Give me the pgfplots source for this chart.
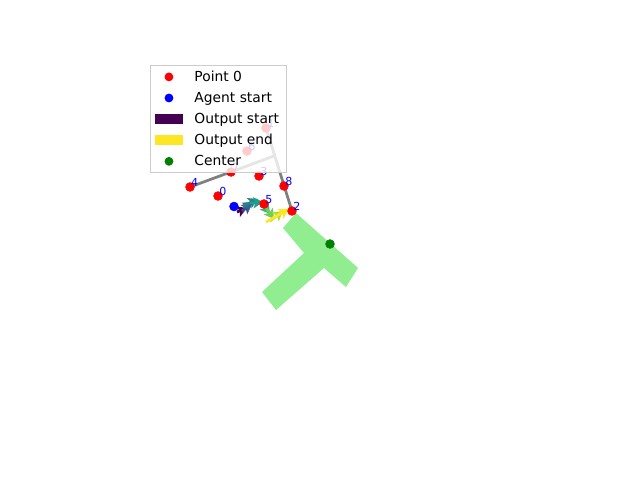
\documentclass[border=0pt]{standalone}
\usepackage{pgfplots}
\pgfplotsset{compat=1.18}
\usepackage{fontspec}
\setmainfont{DejaVu Sans}
\usetikzlibrary{arrows.meta}
\definecolor{lgreen}{HTML}{90EE90}
\definecolor{mgreen}{HTML}{008000}
\definecolor{v0}{HTML}{440154}
\definecolor{v1}{HTML}{482878}
\definecolor{v2}{HTML}{3E4989}
\definecolor{v3}{HTML}{31688E}
\definecolor{v4}{HTML}{26828E}
\definecolor{v5}{HTML}{1F9E89}
\definecolor{v6}{HTML}{35B779}
\definecolor{v7}{HTML}{6ECE58}
\definecolor{v8}{HTML}{B5DE2B}
\definecolor{v9}{HTML}{FDE725}
\pgfplotstableread{
x y label
218 196 0
266 128 1
292 211 2
259 176 3
190 187 4
264 204 5
247 151 6
231 172 7
284 186 8
}\pts
\begin{document}
\begin{tikzpicture}
\begin{axis}[
  width=6.4in, height=4.8in, scale only axis,
  xmin=0, xmax=640, ymin=0, ymax=480, y dir=reverse,
  hide axis, clip=false,
  legend cell align=left,
  legend style={at={(150/640,1-65.5/480)}, anchor=north west,
    draw=black!20, fill=white, fill opacity=0.8, text opacity=1,
    font=\fontsize{10}{12}\selectfont,
    inner xsep=3.5pt, inner ysep=1.5pt, row sep=2.3pt,
    /tikz/every odd column/.append style={column sep=6.4pt}},
]
% T shape
\addplot[fill=lgreen, draw=none, forget plot] coordinates {
 (296,213) (358,268) (346,287) (324,268) (276,310) (262,292) (304,253) (283,228)} -- cycle;
% points
\addplot[only marks, mark=*, mark size=3.2pt, red, forget plot] table[x=x,y=y] {\pts};
% agent start
\addplot[only marks, mark=*, mark size=3.2pt, blue, forget plot] coordinates {(234,206.5)};
% gray lines
\addplot[gray, line width=2pt, forget plot] coordinates {(266,128) (292,211)};
\addplot[gray, line width=2pt, forget plot] coordinates {(190,187) (274,156)};
% labels
\addplot[only marks, mark=none, forget plot, nodes near coords, point meta=explicit symbolic,
  every node near coord/.style={anchor=base west, inner sep=0pt, blue, font=\fontsize{8}{9}\selectfont, xshift=0.7pt, yshift=0.6pt}]
  table[x=x,y=y,meta=label] {\pts};
% output arrows
\tikzset{oarr/.style={line width=2pt, -{Stealth[length=7pt,width=8pt,inset=1.5pt]}}}
\addplot[oarr, v0, forget plot] coordinates {(237,212) (247,208)};
\addplot[oarr, v2, forget plot] coordinates {(242,211) (252,204)};
\addplot[oarr, v3, forget plot] coordinates {(244,208) (253,202)};
\addplot[oarr, v4, forget plot] coordinates {(243,206) (258,199)};
\addplot[oarr, v5, forget plot] coordinates {(250,203) (263,202)};
\addplot[oarr, v6, forget plot] coordinates {(261,202) (270,214)};
\addplot[oarr, v7, forget plot] coordinates {(266,208) (274,219)};
\addplot[oarr, v8, forget plot] coordinates {(270,221) (283,211)};
\addplot[oarr, v9, forget plot] coordinates {(266,222) (289,209)};
% center
\addplot[only marks, mark=*, mark size=3.2pt, mgreen, forget plot] coordinates {(330,244)};
% legend
\addlegendimage{legend image code/.code={\path[draw=none,fill=none] (0pt,-3.5pt) rectangle (20pt,3.5pt); \fill[red, fill opacity=1, draw=none] (10pt,0pt) circle (3.2pt);}}
\addlegendentry{Point 0}
\addlegendimage{legend image code/.code={\path[draw=none,fill=none] (0pt,-3.5pt) rectangle (20pt,3.5pt); \fill[blue, fill opacity=1, draw=none] (10pt,0pt) circle (3.2pt);}}
\addlegendentry{Agent start}
\addlegendimage{legend image code/.code={\fill[v0, fill opacity=1, draw=none] (0pt,-3.5pt) rectangle (20pt,3.5pt);}}
\addlegendentry{Output start}
\addlegendimage{legend image code/.code={\fill[v9, fill opacity=1, draw=none] (0pt,-3.5pt) rectangle (20pt,3.5pt);}}
\addlegendentry{Output end}
\addlegendimage{legend image code/.code={\path[draw=none,fill=none] (0pt,-3.5pt) rectangle (20pt,3.5pt); \fill[mgreen, fill opacity=1, draw=none] (10pt,0pt) circle (3.2pt);}}
\addlegendentry{Center}
\end{axis}
\path (current axis.south west) rectangle (current axis.north east);
\end{tikzpicture}
\end{document}
